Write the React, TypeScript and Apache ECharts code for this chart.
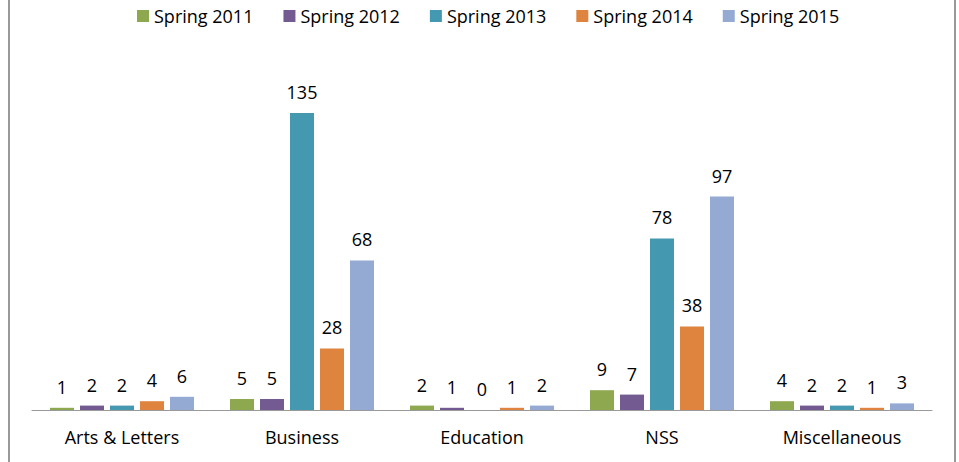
import React, { useEffect, useRef } from "react";
import * as echarts from "echarts";

const categories = ["Arts & Letters", "Business", "Education", "NSS", "Miscellaneous"];
const seriesNames = ["Spring 2011", "Spring 2012", "Spring 2013", "Spring 2014", "Spring 2015"];
const spring2011 = [1, 5, 2, 9, 4];
const spring2012 = [2, 5, 1, 7, 2];
const spring2013 = [2, 135, 0, 78, 2];
const spring2014 = [4, 28, 1, 38, 1];
const spring2015 = [6, 68, 2, 97, 3];
const colors = ["#8EA84F", "#735A91", "#4499B0", "#DE843F", "#94AAD2"];

const FONT = "'Open Sans', Lato, sans-serif";

export default function App() {
  const ref = useRef<HTMLDivElement>(null);
  useEffect(() => {
    if (!ref.current) return;
    const chart = echarts.init(ref.current, undefined, { renderer: "svg" });
    const values = [spring2011, spring2012, spring2013, spring2014, spring2015];
    chart.setOption({
      animation: false,
      backgroundColor: "#ffffff",
      textStyle: { fontFamily: FONT },
      legend: {
        top: 2,
        left: 132,
        itemWidth: 12,
        itemHeight: 12,
        itemGap: 30,
        icon: "rect",
        textStyle: { fontSize: 18, color: "#000", fontFamily: FONT },
        data: seriesNames,
      },
      grid: { left: 32, right: 27, top: 102, bottom: 52, containLabel: false },
      xAxis: {
        type: "category",
        data: categories,
        axisLine: { lineStyle: { color: "#9a9a9a", width: 1 } },
        axisTick: { show: false },
        axisLabel: { fontSize: 18, color: "#000", margin: 18, fontFamily: FONT },
      },
      yAxis: {
        type: "value",
        min: 0,
        max: 140,
        show: false,
        splitLine: { show: false },
      },
      series: seriesNames.map((name, i) => ({
        name,
        type: "bar",
        data: values[i],
        barWidth: 24,
        barGap: "25%",
        itemStyle: { color: colors[i] },
        label: {
          show: true,
          position: "top",
          distance: 12,
          fontSize: 18,
          color: "#000",
          fontFamily: FONT,
        },
      })),
      graphic: [
        { type: "line", shape: { x1: 9, y1: 0, x2: 9, y2: 462 }, style: { stroke: "#999", lineWidth: 2 } },
        { type: "line", shape: { x1: 955, y1: 0, x2: 955, y2: 462 }, style: { stroke: "#999", lineWidth: 2 } },
      ],
    });
    return () => chart.dispose();
  }, []);
  return (
    <div
      ref={ref}
      style={{ position: "fixed", left: 0, top: 0, width: 959, height: 462 }}
    />
  );
}
